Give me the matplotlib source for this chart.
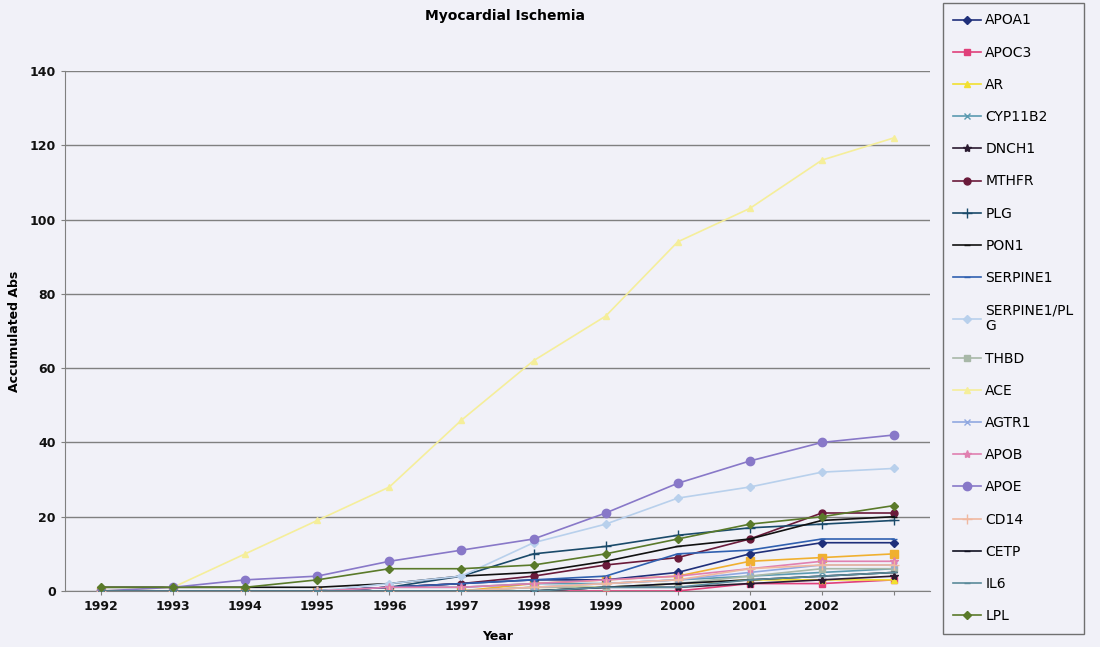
import matplotlib
matplotlib.use("Agg")
import matplotlib.pyplot as plt

years = ["1992", "1993", "1994", "1995", "1996", "1997", "1998", "1999",
         "2000", "2001", "2002", ""]

APOA1 = [0, 0, 0, 0, 1, 2, 3, 3, 5, 10, 13, 13]
APOC3 = [0, 0, 0, 0, 0, 0, 0, 0, 0, 2, 2, 3]
AR = [0, 0, 0, 0, 0, 0, 1, 1, 2, 3, 3, 3]
CYP11B2 = [0, 0, 0, 0, 1, 1, 2, 2, 3, 4, 5, 6]
DNCH1 = [0, 0, 0, 0, 0, 0, 0, 1, 1, 2, 3, 4]
MTHFR = [0, 0, 0, 0, 1, 2, 4, 7, 9, 14, 21, 21]
PLG = [0, 0, 0, 0, 1, 4, 10, 12, 15, 17, 18, 19]
PON1 = [1, 1, 1, 1, 2, 4, 5, 8, 12, 14, 19, 20]
SERPINE1 = [0, 0, 0, 0, 1, 2, 3, 4, 10, 11, 14, 14]
SERPINE1_PLG = [0, 0, 0, 0, 2, 4, 13, 18, 25, 28, 32, 33]
THBD = [0, 0, 0, 0, 0, 0, 1, 1, 2, 4, 6, 6]
ACE = [0, 1, 10, 19, 28, 46, 62, 74, 94, 103, 116, 122]
AGTR1 = [0, 0, 0, 0, 0, 0, 1, 2, 3, 5, 7, 7]
APOB = [0, 0, 0, 0, 1, 1, 2, 3, 4, 6, 8, 8]
APOE = [0, 1, 3, 4, 8, 11, 14, 21, 29, 35, 40, 42]
CD14 = [0, 0, 0, 0, 0, 0, 1, 2, 3, 6, 7, 7]
CETP = [0, 0, 0, 0, 0, 0, 0, 1, 2, 3, 4, 5]
IL6 = [0, 0, 0, 0, 0, 0, 0, 1, 1, 3, 4, 5]
LPL = [1, 1, 1, 3, 6, 6, 7, 10, 14, 18, 20, 23]
unlisted_sq = [0, 0, 0, 0, 0, 0, 2, 3, 4, 8, 9, 10]

# (label, values, color, marker, markersize)
series = [
    ("APOA1", APOA1, "#1f2f7a", "D", 4),
    ("APOC3", APOC3, "#e0407a", "s", 5),
    ("AR", AR, "#f2e030", "^", 5),
    ("CYP11B2", CYP11B2, "#5a9ab0", "x", 5),
    ("DNCH1", DNCH1, "#2a1a30", "*", 6),
    ("MTHFR", MTHFR, "#6a1a3a", "o", 5),
    ("PLG", PLG, "#1a4a6a", "+", 7),
    ("PON1", PON1, "#111111", "_", 5),
    ("SERPINE1", SERPINE1, "#3060b0", "_", 5),
    ("SERPINE1/PL\nG", SERPINE1_PLG, "#b8d0ec", "D", 4),
    ("THBD", THBD, "#a8b8a8", "s", 5),
    ("ACE", ACE, "#f5ee9a", "^", 5),
    ("AGTR1", AGTR1, "#90a8e0", "x", 5),
    ("APOB", APOB, "#e080b0", "*", 6),
    ("APOE", APOE, "#8878c8", "o", 6),
    ("CD14", CD14, "#f0b8a0", "+", 7),
    ("CETP", CETP, "#101020", "_", 5),
    ("IL6", IL6, "#5a8a9a", "_", 5),
    ("LPL", LPL, "#5a7a2a", "D", 4),
]

bg = "#f1f1f8"
fig = plt.figure(figsize=(11, 6.47), dpi=100, facecolor=bg)
ax = fig.add_axes([65 / 1100, 56 / 647, 865 / 1100, 520 / 647])
ax.set_facecolor(bg)

x = list(range(len(years)))
ax.plot(x, unlisted_sq, color="#f0b030", marker="s", markersize=6,
        linewidth=1.2, zorder=2)
handles = []
for label, vals, col, mk, ms in series:
    ln, = ax.plot(x, vals, color=col, marker=mk, markersize=ms,
                  linewidth=1.2, label=label, zorder=3)
    handles.append(ln)

ax.set_xlim(-0.5, len(years) - 0.5)
ax.set_ylim(0, 140)
ax.set_yticks(range(0, 141, 20))
ax.set_xticks(x)
ax.set_xticklabels(years)
ax.grid(axis="y", color="#808080", linewidth=1.0)
ax.set_axisbelow(True)
for s in ["top", "right"]:
    ax.spines[s].set_visible(False)
ax.spines["left"].set_color("#808080")
ax.spines["bottom"].set_color("#808080")
ax.tick_params(axis="both", labelsize=9, colors="#808080", labelcolor="#111111",
               length=3)
for t in ax.get_xticklabels() + ax.get_yticklabels():
    t.set_fontweight("bold")
ax.set_xlabel("Year", fontsize=9, fontweight="bold", labelpad=12)
ax.set_ylabel("Accumulated Abs", fontsize=9, fontweight="bold", labelpad=6)
fig.text(505 / 1100, 1 - 16 / 647, "Myocardial Ischemia", ha="center",
         va="center", fontsize=10, fontweight="bold")

leg = fig.legend(handles=handles, loc="upper left",
                 bbox_to_anchor=(943 / 1100, 1 - 3 / 647), borderaxespad=0,
                 fontsize=10, frameon=True, fancybox=False,
                 edgecolor="#707070", facecolor=bg, framealpha=1,
                 handlelength=2.0, labelspacing=1.31, borderpad=0.75,
                 handletextpad=0.3)
leg.get_frame().set_linewidth(1.0)

fig.savefig("out.png", dpi=100, facecolor=bg)
